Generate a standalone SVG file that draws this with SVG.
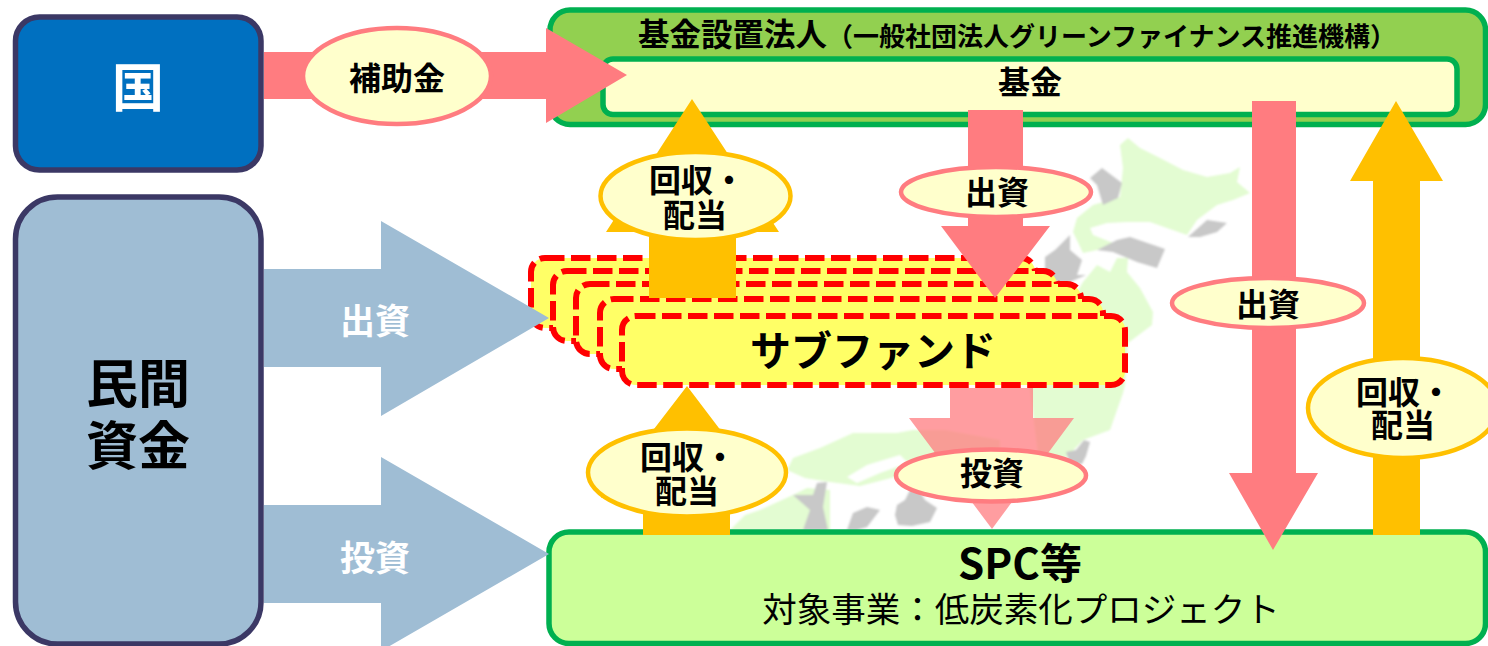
<svg xmlns="http://www.w3.org/2000/svg" width="1488" height="646" viewBox="0 0 1488 646">
<defs><filter id="soft" x="-5%" y="-5%" width="110%" height="110%"><feGaussianBlur stdDeviation="0.9"/></filter></defs>
<style>
text{font-family:"Noto Sans CJK JP","Liberation Sans",sans-serif;text-anchor:middle;font-weight:700;fill:#000}
.pk{fill:#ff7c80}.or{fill:#ffc000}.bl{fill:#9fbdd4}
.ep{fill:#ffffcc;stroke:#ff7c80;stroke-width:4.5}
.eo{fill:#ffffcc;stroke:#ffc000;stroke-width:4.5}
.sf{fill:#ffff66;stroke:#ff0000;stroke-width:6;stroke-dasharray:19.5 6.5}
.box{stroke:#3b3865;stroke-width:5.5}
.grn{stroke:#00b050;stroke-width:5.5}
.t32{font-size:32px}
.mg{fill:#e3fcd2}.mk{fill:#c8c8c8}.mw{fill:#fff}
</style>
<g id="map" filter="url(#soft)">
<path class="mg" d="M1128 138L1140 148 1160 158 1183 170 1207 177 1230 173 1240 167 1237 182 1250 193 1233 200 1217 205 1197 220 1187 235 1167 228 1150 222 1127 222 1107 223 1090 228 1093 235 1113 243 1097 250 1083 253 1073 232 1077 218 1093 205 1120 197 1123 168 1120 145z"/>
<path class="mg" d="M1083 282L1097 265 1110 272 1117 258 1128 258 1127 272 1140 288 1153 312 1152 325 1128 343 1125 385 1123 393 1110 430 1083 440 1067 457 1040 470 1030 390 1050 340z"/>
<path class="mg" d="M787 470L793 458 820 448 853 433 897 433 913 430 945 430 1000 440 1000 470 935 480 895 477 860 486 830 482 805 478z"/>
<path class="mg" d="M730 530L745 515 760 510 793 495 807 488 830 490 830 530z"/>
<path class="mw" d="M847 477L867 465 900 455 908 463 880 473 857 483z"/>
<path class="mk" d="M1090 178L1102 168 1122 183 1118 198 1103 205 1097 185z"/>
<path class="mk" d="M1188 237L1207 220 1227 223 1217 232 1200 237z"/>
<path class="mk" d="M1097 250L1117 240 1130 237 1165 249 1157 268 1137 262 1113 252z"/>
<path class="mk" d="M1045 257L1055 250 1065 240 1070 235 1070 250 1082 260 1077 275 1086 275 1070 282 1045 282z"/>
<path class="mk" d="M895 515L897 505 905 500 910 490 920 492 925 500 937 508 930 522 912 526 898 525z"/>
<path class="mk" d="M1066 452L1076 450 1084 440 1090 442 1086 456 1082 464 1070 464z"/>
<path class="mk" d="M793 495L813 495 817 483 827 482 823 507 828 530 803 530 810 510z"/>
<path class="mk" d="M847 530L853 513 867 507 880 510 867 527 857 530z"/>
</g>
<g id="node-kuni">
<rect class="box" x="15.500" y="17" width="245.500" height="153" rx="24" fill="#0070c0"/>
<text x="138" y="107" font-size="52" style="fill:#fff">国</text>
</g>
<g id="node-minkan">
<rect class="box" x="15.500" y="197" width="245.500" height="447" rx="42" fill="#9fbdd4"/>
<text font-size="52"><tspan x="138" y="403">民間</tspan><tspan x="138" y="465">資金</tspan></text>
</g>
<g id="node-hojin">
<rect class="grn" x="550" y="10" width="935.500" height="114.500" rx="20" fill="#92d050"/>
<text x="638" y="46" style="text-anchor:start"><tspan font-size="31.500">基金設置法人</tspan><tspan font-size="26">（一般社団法人グリーンファイナンス推進機構）</tspan></text>
</g>
<g id="node-kikin">
<rect class="grn" x="603" y="59" width="854" height="55.500" rx="10" fill="#ffffcc"/>
<text x="1030" y="94" class="t32">基金</text>
</g>
<g id="node-subfund">
<rect x="531" y="258" width="504" height="70" rx="14" class="sf"/>
<rect x="553" y="271" width="504" height="70" rx="14" class="sf"/>
<rect x="576" y="284" width="505" height="70" rx="14" class="sf"/>
<rect x="600" y="299" width="503" height="70" rx="14" class="sf"/>
<rect x="622" y="316" width="503" height="69" rx="14" class="sf"/>
<text x="873" y="366" font-size="41">サブファンド</text>
</g>
<g id="node-spc">
<rect class="grn" x="549" y="532" width="936.500" height="111.500" rx="20" fill="#ccff99"/>
<text x="1020" y="579" font-size="42">SPC等</text>
<text x="1021" y="622" font-size="34.500" style="font-weight:400">対象事業：低炭素化プロジェクト</text>
</g>
<g id="connectors">
<path id="a-subsidy" class="pk" d="M264 52H546V28L627 75 546 123V99H264z"/>
<path id="a-fund-sub" class="pk" d="M968 110H1023V226H1050L995 298 941 226H968z"/>
<path id="a-fund-spc" class="pk" d="M1252 101H1296V473H1318L1273 550 1229 473H1252z"/>
<path id="a-spc-fund" class="or" d="M1373 535V181H1350L1396 101 1443 181H1420V535z"/>
<path id="a-sub-fund" class="or" d="M649 298V232H606L692 99 779 232H736V298z"/>
<path id="a-spc-sub" class="or" d="M643 535V498H601L687 386 772 498H730V535z"/>
<path id="a-sub-spc" fill="#ff7c80" opacity=".75" d="M950 388H1033V418H1074L992 529 909 418H950z"/>
<path id="a-priv-sub" class="bl" d="M264 269H381V221L549 318 381 416V367H264z"/>
<path id="a-priv-spc" class="bl" d="M264 505H381V457L549 554 381 651V603H264z"/>
</g>
<g id="label-hojokin"><ellipse class="ep" cx="397" cy="76" rx="94" ry="48"/><text x="397" y="90" class="t32">補助金</text></g>
<g id="label-kaishu1"><ellipse class="eo" cx="695.500" cy="196" rx="95" ry="44"/><text class="t32"><tspan x="697" y="192">回収・</tspan><tspan x="695" y="227">配当</tspan></text></g>
<g id="label-shusshi1"><ellipse class="ep" cx="996" cy="192" rx="95" ry="25"/><text x="997" y="204" class="t32">出資</text></g>
<g id="label-shusshi2"><ellipse class="ep" cx="1268" cy="303" rx="96" ry="25"/><text x="1268" y="316" class="t32">出資</text></g>
<g id="label-kaishu2"><ellipse class="eo" cx="1403" cy="408" rx="95" ry="50"/><text class="t32"><tspan x="1404" y="404">回収・</tspan><tspan x="1403" y="437">配当</tspan></text></g>
<g id="label-toshi1"><ellipse class="ep" cx="991" cy="475.500" rx="95" ry="26"/><text x="992" y="485" class="t32">投資</text></g>
<g id="label-kaishu3"><ellipse class="eo" cx="687" cy="472.500" rx="99" ry="44"/><text class="t32"><tspan x="688" y="469">回収・</tspan><tspan x="687" y="503">配当</tspan></text></g>
<g id="label-blue1"><text x="375" y="334" font-size="35" style="fill:#fff">出資</text></g>
<g id="label-blue2"><text x="375" y="571" font-size="35" style="fill:#fff">投資</text></g>
</svg>
